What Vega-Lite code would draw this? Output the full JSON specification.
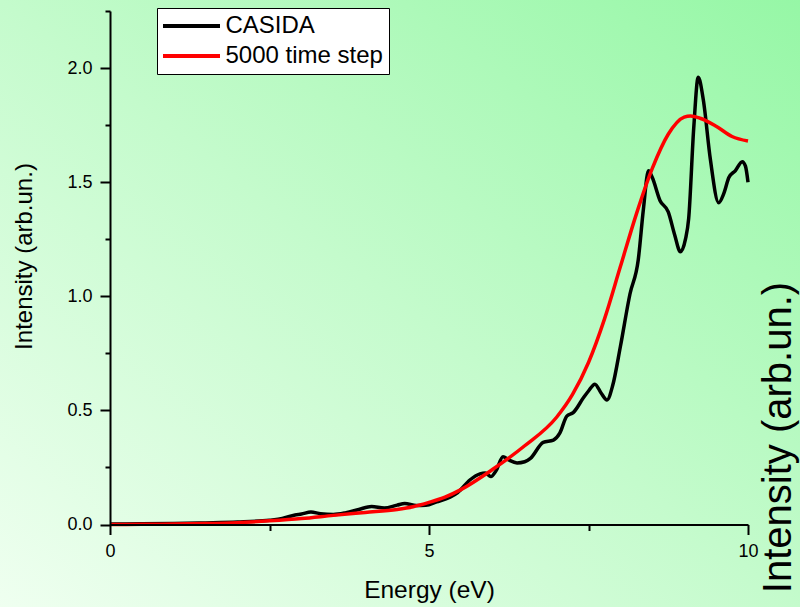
{
  "$schema": "https://vega.github.io/schema/vega-lite/v6.json",
  "width": 800,
  "height": 607,
  "autosize": {"type": "none"},
  "padding": 0,
  "background": "#c4fbcc",
  "config": {
    "view": {"stroke": null},
    "font": "Liberation Sans",
    "axis": {"grid": false, "labelColor": "black", "tickColor": "black", "domainColor": "black", "titleColor": "black", "titleFontWeight": "normal", "labelFont": "Liberation Sans", "titleFont": "Liberation Sans"},
    "legend": {"labelFont": "Liberation Sans"}
  },
  "layer": [
    {
      "data": {"values": [{}]},
      "mark": {
        "type": "rect",
        "fill": {
          "gradient": "linear",
          "x1": 0, "y1": 1, "x2": 1, "y2": 0,
          "stops": [
            {"offset": 0, "color": "#effff0"},
            {"offset": 0.5, "color": "#c4fbcc"},
            {"offset": 1, "color": "#96f7a6"}
          ]
        }
      },
      "encoding": {}
    },
    {
      "data": {
        "values": [
          {"E": 0, "I": 0.002, "s": "CASIDA"},
          {"E": 0.5, "I": 0.003, "s": "CASIDA"},
          {"E": 1.0, "I": 0.004, "s": "CASIDA"},
          {"E": 1.5, "I": 0.007, "s": "CASIDA"},
          {"E": 2.0, "I": 0.011, "s": "CASIDA"},
          {"E": 2.5, "I": 0.019, "s": "CASIDA"},
          {"E": 2.7, "I": 0.026, "s": "CASIDA"},
          {"E": 2.9, "I": 0.042, "s": "CASIDA"},
          {"E": 3.0, "I": 0.046, "s": "CASIDA"},
          {"E": 3.15, "I": 0.055, "s": "CASIDA"},
          {"E": 3.3, "I": 0.047, "s": "CASIDA"},
          {"E": 3.5, "I": 0.044, "s": "CASIDA"},
          {"E": 3.7, "I": 0.052, "s": "CASIDA"},
          {"E": 3.9, "I": 0.066, "s": "CASIDA"},
          {"E": 4.1, "I": 0.079, "s": "CASIDA"},
          {"E": 4.3, "I": 0.072, "s": "CASIDA"},
          {"E": 4.5, "I": 0.085, "s": "CASIDA"},
          {"E": 4.62, "I": 0.092, "s": "CASIDA"},
          {"E": 4.8, "I": 0.083, "s": "CASIDA"},
          {"E": 4.95, "I": 0.084, "s": "CASIDA"},
          {"E": 5.12, "I": 0.099, "s": "CASIDA"},
          {"E": 5.33, "I": 0.12, "s": "CASIDA"},
          {"E": 5.45, "I": 0.14, "s": "CASIDA"},
          {"E": 5.64, "I": 0.195, "s": "CASIDA"},
          {"E": 5.8, "I": 0.222, "s": "CASIDA"},
          {"E": 5.88, "I": 0.226, "s": "CASIDA"},
          {"E": 5.97, "I": 0.21, "s": "CASIDA"},
          {"E": 6.05, "I": 0.235, "s": "CASIDA"},
          {"E": 6.16, "I": 0.297, "s": "CASIDA"},
          {"E": 6.25, "I": 0.283, "s": "CASIDA"},
          {"E": 6.38, "I": 0.27, "s": "CASIDA"},
          {"E": 6.5, "I": 0.275, "s": "CASIDA"},
          {"E": 6.59, "I": 0.29, "s": "CASIDA"},
          {"E": 6.79, "I": 0.36, "s": "CASIDA"},
          {"E": 6.95, "I": 0.37, "s": "CASIDA"},
          {"E": 7.05, "I": 0.4, "s": "CASIDA"},
          {"E": 7.16, "I": 0.475, "s": "CASIDA"},
          {"E": 7.26, "I": 0.49, "s": "CASIDA"},
          {"E": 7.42, "I": 0.555, "s": "CASIDA"},
          {"E": 7.5, "I": 0.585, "s": "CASIDA"},
          {"E": 7.6, "I": 0.615, "s": "CASIDA"},
          {"E": 7.7, "I": 0.575, "s": "CASIDA"},
          {"E": 7.79, "I": 0.546, "s": "CASIDA"},
          {"E": 7.88, "I": 0.61, "s": "CASIDA"},
          {"E": 8.0, "I": 0.78, "s": "CASIDA"},
          {"E": 8.15, "I": 1.01, "s": "CASIDA"},
          {"E": 8.28, "I": 1.16, "s": "CASIDA"},
          {"E": 8.36, "I": 1.38, "s": "CASIDA"},
          {"E": 8.44, "I": 1.55, "s": "CASIDA"},
          {"E": 8.5, "I": 1.52, "s": "CASIDA"},
          {"E": 8.62, "I": 1.42, "s": "CASIDA"},
          {"E": 8.75, "I": 1.37, "s": "CASIDA"},
          {"E": 8.85, "I": 1.27, "s": "CASIDA"},
          {"E": 8.94, "I": 1.195, "s": "CASIDA"},
          {"E": 9.02, "I": 1.25, "s": "CASIDA"},
          {"E": 9.07, "I": 1.34, "s": "CASIDA"},
          {"E": 9.15, "I": 1.74, "s": "CASIDA"},
          {"E": 9.22, "I": 1.96, "s": "CASIDA"},
          {"E": 9.3, "I": 1.86, "s": "CASIDA"},
          {"E": 9.41, "I": 1.6, "s": "CASIDA"},
          {"E": 9.54, "I": 1.41, "s": "CASIDA"},
          {"E": 9.62, "I": 1.45, "s": "CASIDA"},
          {"E": 9.7, "I": 1.52, "s": "CASIDA"},
          {"E": 9.8, "I": 1.55, "s": "CASIDA"},
          {"E": 9.91, "I": 1.59, "s": "CASIDA"},
          {"E": 9.96, "I": 1.57, "s": "CASIDA"},
          {"E": 10, "I": 1.5, "s": "CASIDA"},
          {"E": 0, "I": 0.0, "s": "5000 time step"},
          {"E": 0.5, "I": 0.001, "s": "5000 time step"},
          {"E": 1.0, "I": 0.002, "s": "5000 time step"},
          {"E": 1.5, "I": 0.004, "s": "5000 time step"},
          {"E": 2.0, "I": 0.008, "s": "5000 time step"},
          {"E": 2.5, "I": 0.016, "s": "5000 time step"},
          {"E": 3.0, "I": 0.026, "s": "5000 time step"},
          {"E": 3.5, "I": 0.04, "s": "5000 time step"},
          {"E": 4.0, "I": 0.053, "s": "5000 time step"},
          {"E": 4.5, "I": 0.066, "s": "5000 time step"},
          {"E": 4.75, "I": 0.078, "s": "5000 time step"},
          {"E": 5.0, "I": 0.097, "s": "5000 time step"},
          {"E": 5.25, "I": 0.12, "s": "5000 time step"},
          {"E": 5.5, "I": 0.153, "s": "5000 time step"},
          {"E": 6.0, "I": 0.242, "s": "5000 time step"},
          {"E": 6.5, "I": 0.345, "s": "5000 time step"},
          {"E": 7.0, "I": 0.47, "s": "5000 time step"},
          {"E": 7.25, "I": 0.57, "s": "5000 time step"},
          {"E": 7.5, "I": 0.71, "s": "5000 time step"},
          {"E": 7.75, "I": 0.9, "s": "5000 time step"},
          {"E": 8.0, "I": 1.13, "s": "5000 time step"},
          {"E": 8.25, "I": 1.36, "s": "5000 time step"},
          {"E": 8.5, "I": 1.56, "s": "5000 time step"},
          {"E": 8.75, "I": 1.71, "s": "5000 time step"},
          {"E": 9.0, "I": 1.785, "s": "5000 time step"},
          {"E": 9.1, "I": 1.79, "s": "5000 time step"},
          {"E": 9.25, "I": 1.78, "s": "5000 time step"},
          {"E": 9.5, "I": 1.745, "s": "5000 time step"},
          {"E": 9.75, "I": 1.7, "s": "5000 time step"},
          {"E": 10, "I": 1.68, "s": "5000 time step"}
        ]
      },
      "mark": {"type": "line", "interpolate": "monotone", "strokeWidth": 3.5},
      "encoding": {
        "x": {
          "field": "E", "type": "quantitative",
          "scale": {"domain": [0, 10], "range": [110, 748], "nice": false, "zero": false},
          "axis": {
            "zindex": 1,
            "orient": "bottom", "offset": -82.5,
            "values": [0, 2.5, 5, 7.5, 10],
            "tickSize": {"condition": {"test": "datum.value % 5 === 0", "value": 10}, "value": 6},
            "tickWidth": 2, "domainWidth": 2,
            "labelExpr": "datum.value % 5 === 0 ? datum.label : ''",
            "labelFontSize": 18, "labelPadding": 8, "labelFlush": false, "labelOverlap": false,
            "title": "Energy (eV)", "titleFontSize": 24.5, "titlePadding": 18
          }
        },
        "y": {
          "field": "I", "type": "quantitative",
          "scale": {"domain": [0, 2.25], "range": [524.5, 11], "nice": false, "zero": false},
          "axis": {
            "zindex": 1,
            "orient": "left", "offset": -110,
            "values": [0, 0.25, 0.5, 0.75, 1, 1.25, 1.5, 1.75, 2, 2.25],
            "tickSize": {"condition": {"test": "datum.value % 0.5 === 0", "value": 10}, "value": 5},
            "tickWidth": 2, "domainWidth": 2,
            "labelExpr": "datum.value % 0.5 === 0 ? format(datum.value, '.1f') : ''",
            "labelFontSize": 18, "labelPadding": 8, "labelOverlap": false, "labelFlush": false,
            "title": "Intensity (arb.un.)", "titleFontSize": 24, "titlePadding": 30, "titleY": 256, "titleAlign": "center", "titleAnchor": "middle"
          }
        },
        "color": {
          "field": "s", "type": "nominal",
          "scale": {"domain": ["CASIDA", "5000 time step"], "range": ["#000000", "#ff0000"]},
          "legend": {
            "title": null, "orient": "none", "legendX": 157, "legendY": 8,
            "fillColor": "white", "strokeColor": "black", "padding": 6, "rowPadding": 6,
            "symbolType": "M-2.85,0H2.85", "symbolSize": 400, "symbolStrokeWidth": 4,
            "symbolOffset": 16.5, "labelOffset": 22,
            "labelFontSize": 24, "labelColor": "black", "labelLimit": 400
          }
        }
      }
    },
    {
      "data": {"values": [{}]},
      "mark": {"type": "rule", "opacity": 0},
      "encoding": {
        "y": {
          "datum": 0, "type": "quantitative",
          "scale": {"domain": [0, 2.25], "range": [524.5, 11], "nice": false, "zero": false},
          "axis": {
            "zindex": 1,
            "orient": "right", "offset": 0, "labels": false, "ticks": false, "domain": false,
            "title": "Intensity (arb.un.)", "titleFontSize": 40, "titleAngle": 270,
            "titleX": -10, "titleY": 437, "titleAlign": "center", "titleBaseline": "alphabetic"
          }
        }
      }
    }
  ],
  "resolve": {"axis": {"y": "independent"}}
}
